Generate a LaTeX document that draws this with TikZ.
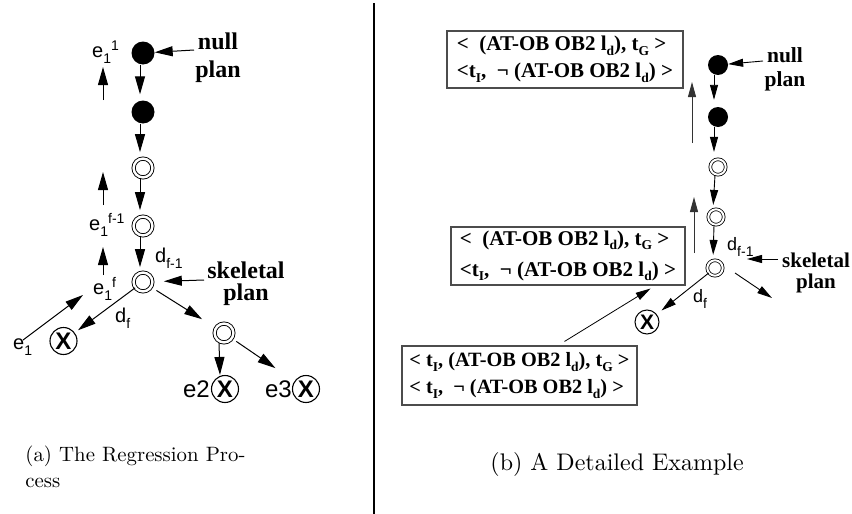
\documentclass[tikz,border=0pt]{standalone}
\usepackage{fontspec}
\newfontfamily\ari{Liberation Sans}
\newfontfamily\tim{Liberation Serif}
\usetikzlibrary{arrows.meta}
\newcommand\lsub[1]{\raisebox{-6pt}{\fontsize{14}{14}\selectfont #1}}
\newcommand\lsup[1]{\raisebox{7pt}{\fontsize{14}{14}\selectfont #1}}
\newcommand\bsub[1]{\raisebox{-4.5pt}{\fontsize{13.5}{13.5}\selectfont #1}}
\begin{document}
\begin{tikzpicture}[x=1pt,y=-1pt,
  arrL/.style={line width=1pt,-{Triangle[length=18pt,width=10pt]}},
  arrR/.style={line width=0.9pt,-{Triangle[length=15pt,width=8pt]}},
  fillL/.style={circle,fill=black,inner sep=0pt,minimum size=23pt},
  fillR/.style={circle,fill=black,inner sep=0pt,minimum size=20pt},
  dblL/.style={circle,draw,double,double distance=2.4pt,line width=0.9pt,inner sep=0pt,minimum size=18.8pt},
  dblR/.style={circle,draw,double,double distance=2pt,line width=0.8pt,inner sep=0pt,minimum size=15.4pt},
  xL/.style={circle,draw,line width=1.1pt,inner sep=0pt,minimum size=27pt,font=\fontsize{24}{24}\selectfont\ari\bfseries},
  xR/.style={circle,draw,line width=1pt,inner sep=0pt,minimum size=24pt,font=\fontsize{21}{21}\selectfont\ari\bfseries},
  lab/.style={inner sep=0pt,font=\fontsize{20}{20}\selectfont\ari},
  labE/.style={inner sep=0pt,font=\fontsize{24}{24}\selectfont\ari},
  labR/.style={inner sep=0pt,font=\fontsize{18}{18}\selectfont\ari},
  bigL/.style={inner sep=0pt,align=center,font=\fontsize{24}{28}\selectfont\tim\bfseries},
  bigR/.style={inner sep=0pt,align=center,font=\fontsize{21.5}{24}\selectfont\tim\bfseries},
  tbox/.style={draw=black!70,line width=1.1pt,align=left,inner sep=0pt,font=\fontsize{21}{27}\selectfont\tim\bfseries},
  captb/.style={inner sep=0pt,scale=2.4},
  capta/.style={inner sep=0pt,scale=2.08}
]
\useasboundingbox (0,0) rectangle (852,514);
\draw[line width=2pt] (374,3) -- (374,514);

% ---------- left panel ----------
\node[fillL] (N1) at (143,53) {};
\node[fillL] (N2) at (143,112) {};
\node[dblL] (N3) at (143,168) {};
\node[dblL] (N4) at (143,226) {};
\node[dblL] (N5) at (143,282) {};
\node[dblL] (N6) at (224,333) {};
\node[xL] (X1) at (63.5,341) {X};
\node[xL] (X2) at (225,389) {X};
\node[xL] (X3) at (306,389) {X};

\node[lab,anchor=base west] (e11) at (92,57) {e\lsub{1}\lsup{1}};
\node[lab,anchor=base west] (e1f1) at (89,230) {e\lsub{1}\lsup{f-1}};
\node[lab,anchor=base west] (e1f) at (93,294) {e\lsub{1}\lsup{f}};
\node[lab,anchor=base west] (e1) at (13,349) {e\lsub{1}};
\node[lab,anchor=base west] (dfm1) at (155,262) {d\lsub{f-1}};
\node[lab,anchor=base west] (df) at (115,322) {d\lsub{f}};
\node[labE,anchor=base east] (e2) at (210,397) {e2};
\node[labE,anchor=base east] (e3) at (292,397) {e3};

\node[bigL] (nullL) at (218,58) {null\\plan};
\node[bigL,font=\fontsize{24}{22}\selectfont\tim\bfseries] (skelL) at (246,284) {skeletal\\plan};

\coordinate (nlL) at (194,50);
\coordinate (skLa) at (204,280);
\draw[arrL] (nlL) -- (N1);
\draw[arrL,shorten >=11pt] (skLa) -- (N5);

\draw[arrL,shorten >=6pt] ([xshift=-3pt]N1.south) -- ([xshift=-3pt]N2.north);
\draw[arrL,shorten >=6pt] ([xshift=-3pt]N2.south) -- ([xshift=-3pt]N3.north);
\draw[arrL,shorten >=6pt] ([xshift=-3pt]N3.south) -- ([xshift=-3pt]N4.north);
\draw[arrL,shorten >=5pt] ([xshift=-3pt]N4.south) -- ([xshift=-3pt]N5.north);

\coordinate (u1s) at (103,100); \coordinate (u1e) at (103,67);
\coordinate (u2s) at (103,205); \coordinate (u2e) at (103,172);
\coordinate (u3s) at (103,275); \coordinate (u3e) at (103,247);
\draw[arrL] (u1s) -- (u1e);
\draw[arrL] (u2s) -- (u2e);
\draw[arrL] (u3s) -- (u3e);

\coordinate (a1) at (23,340); \coordinate (a2) at (83,295);
\draw[arrL] (a1) -- (a2);
\draw[arrL,shorten >=4pt] (N5) -- (X1);
\draw[arrL,shorten <=6pt,shorten >=16pt] (N5) -- (N6);
\draw[arrL] ([xshift=-5pt]N6.south) -- ([xshift=-5pt]X2.north);
\draw[arrL,shorten <=5pt,shorten >=23pt] (N6) -- (X3);

\node[capta,anchor=base west] (capa1) at (25,461) {\makebox[105.8pt][s]{(a) The Regression Pro-}};
\node[capta,anchor=base west] (capa2) at (25,487) {cess};

% ---------- right panel ----------
\node[fillR] (R1) at (718,65) {};
\node[fillR] (R2) at (718,117) {};
\node[dblR] (R3) at (718,167) {};
\node[dblR] (R4) at (716,217) {};
\node[dblR] (R5) at (715,268) {};
\node[xR] (XR) at (647,322) {X};

\node[labR,anchor=base west] (dfm1R) at (727,250) {d\lsub{f-1}};
\node[labR,anchor=base west] (dfR) at (693,302) {d\lsub{f}};

\node[bigR] (nullR) at (785,69) {null\\plan};
\node[bigR,font=\fontsize{21}{21}\selectfont\tim\bfseries] (skelR) at (816,273) {skeletal\\plan};

\coordinate (nlR) at (763,61);
\draw[arrR] (nlR) -- (R1);
\coordinate (skRa) at (778,259); \coordinate (skRb) at (747,259);
\draw[arrR] (skRa) -- (skRb);

\draw[arrR,shorten >=7pt] ([xshift=-4pt]R1.south) -- ([xshift=-4pt]R2.north);
\draw[arrR,shorten >=7pt] ([xshift=-4pt]R2.south) -- ([xshift=-4pt]R3.north);
\draw[arrR,shorten >=4pt] ([xshift=-3pt]R3.south) -- ([xshift=-3pt]R4.north);
\draw[arrR,shorten >=5pt] ([xshift=-2pt]R4.south) -- ([xshift=-2pt]R5.north);

\node[tbox,minimum width=236pt,minimum height=57pt] (B1) at (565,59.5)
  {<\ \ (AT-OB OB2 l\bsub{d}), t\bsub{G}\ >\\<t\bsub{I},\ \ ¬ (AT-OB OB2 l\bsub{d}) >};
\node[tbox,minimum width=234pt,minimum height=58pt,font=\fontsize{21}{31}\selectfont\tim\bfseries] (B2) at (568,256)
  {<\ \ (AT-OB OB2 l\bsub{d}), t\bsub{G}\ >\\<t\bsub{I},\ \ ¬ (AT-OB OB2 l\bsub{d}) >};
\node[tbox,minimum width=235pt,minimum height=59pt,font=\fontsize{20.3}{27}\selectfont\tim\bfseries] (B3) at (519.5,375.5)
  {< t\bsub{I}, (AT-OB OB2 l\bsub{d}), t\bsub{G} >\\< t\bsub{I},\ \ ¬ (AT-OB OB2 l\bsub{d}) >};

\coordinate (v1s) at (692,143); \coordinate (v1e) at (692,82);
\coordinate (v2s) at (694,253); \coordinate (v2e) at (694,197);
\draw[arrR,draw=black!80] (v1s) -- (v1e);
\draw[arrR,draw=black!80] (v2s) -- (v2e);

\draw[arrR,shorten >=6pt] (R5) -- (XR);
\coordinate (rr) at (772,298);
\draw[arrR] ([shift={(20pt,-5pt)}]R5.center) -- (rr);
\draw[arrR,line width=0.8pt] ([xshift=45pt,yshift=4pt]B3.north) -- ([xshift=-35pt,yshift=-3pt]B2.south east);

\node[captb,anchor=base west] (capb) at (490,470.5) {(b) A Detailed Example};
\end{tikzpicture}
\end{document}
